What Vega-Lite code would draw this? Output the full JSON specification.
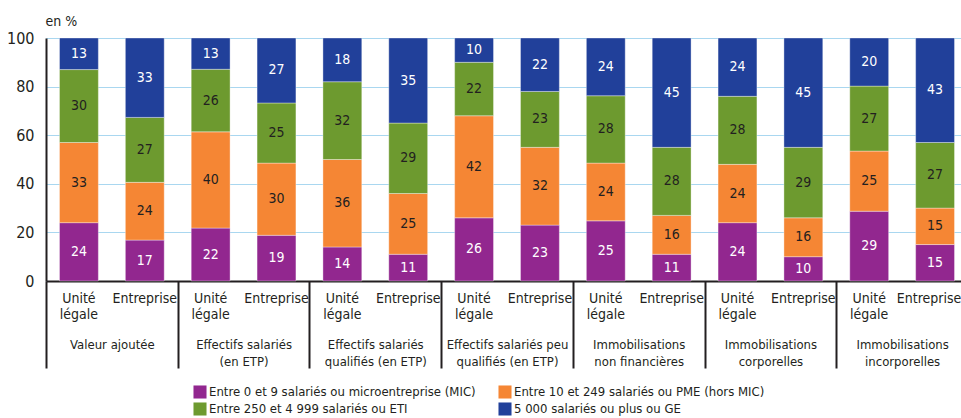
{
  "$schema": "https://vega.github.io/schema/vega-lite/v6.json",
  "width": 922,
  "height": 243,
  "autosize": {"type": "none"},
  "padding": {"left": 46, "top": 38, "right": 0, "bottom": 137},
  "config": {
    "font": "DejaVu Sans Condensed, Liberation Sans, sans-serif",
    "view": {"stroke": null},
    "axis": {"labelColor": "#231f20", "titleColor": "#231f20", "labelFont": "DejaVu Sans Condensed, Liberation Sans, sans-serif", "titleFont": "DejaVu Sans Condensed, Liberation Sans, sans-serif"},
    "legend": {"labelFont": "DejaVu Sans Condensed, Liberation Sans, sans-serif", "labelColor": "#231f20"}
  },
  "datasets": {
    "classes": [
      {"cls": "Entre 0 et 9 salariés ou microentreprise (MIC)", "k": 1},
      {"cls": "Entre 10 et 249 salariés ou PME (hors MIC)", "k": 2},
      {"cls": "Entre 250 et 4 999 salariés ou ETI", "k": 3},
      {"cls": "5 000 salariés ou plus ou GE", "k": 4}
    ],
    "rows": [
      {"g": "Valeur ajoutée", "bar": "Valeur ajoutée/Unité légale", "cls": "Entre 0 et 9 salariés ou microentreprise (MIC)", "v": 24},
      {"g": "Valeur ajoutée", "bar": "Valeur ajoutée/Unité légale", "cls": "Entre 10 et 249 salariés ou PME (hors MIC)", "v": 33},
      {"g": "Valeur ajoutée", "bar": "Valeur ajoutée/Unité légale", "cls": "Entre 250 et 4 999 salariés ou ETI", "v": 30},
      {"g": "Valeur ajoutée", "bar": "Valeur ajoutée/Unité légale", "cls": "5 000 salariés ou plus ou GE", "v": 13},
      {"g": "Valeur ajoutée", "bar": "Valeur ajoutée/Entreprise", "cls": "Entre 0 et 9 salariés ou microentreprise (MIC)", "v": 17},
      {"g": "Valeur ajoutée", "bar": "Valeur ajoutée/Entreprise", "cls": "Entre 10 et 249 salariés ou PME (hors MIC)", "v": 24},
      {"g": "Valeur ajoutée", "bar": "Valeur ajoutée/Entreprise", "cls": "Entre 250 et 4 999 salariés ou ETI", "v": 27},
      {"g": "Valeur ajoutée", "bar": "Valeur ajoutée/Entreprise", "cls": "5 000 salariés ou plus ou GE", "v": 33},
      {"g": "Effectifs salariés|(en ETP)", "bar": "Effectifs salariés|(en ETP)/Unité légale", "cls": "Entre 0 et 9 salariés ou microentreprise (MIC)", "v": 22},
      {"g": "Effectifs salariés|(en ETP)", "bar": "Effectifs salariés|(en ETP)/Unité légale", "cls": "Entre 10 et 249 salariés ou PME (hors MIC)", "v": 40},
      {"g": "Effectifs salariés|(en ETP)", "bar": "Effectifs salariés|(en ETP)/Unité légale", "cls": "Entre 250 et 4 999 salariés ou ETI", "v": 26},
      {"g": "Effectifs salariés|(en ETP)", "bar": "Effectifs salariés|(en ETP)/Unité légale", "cls": "5 000 salariés ou plus ou GE", "v": 13},
      {"g": "Effectifs salariés|(en ETP)", "bar": "Effectifs salariés|(en ETP)/Entreprise", "cls": "Entre 0 et 9 salariés ou microentreprise (MIC)", "v": 19},
      {"g": "Effectifs salariés|(en ETP)", "bar": "Effectifs salariés|(en ETP)/Entreprise", "cls": "Entre 10 et 249 salariés ou PME (hors MIC)", "v": 30},
      {"g": "Effectifs salariés|(en ETP)", "bar": "Effectifs salariés|(en ETP)/Entreprise", "cls": "Entre 250 et 4 999 salariés ou ETI", "v": 25},
      {"g": "Effectifs salariés|(en ETP)", "bar": "Effectifs salariés|(en ETP)/Entreprise", "cls": "5 000 salariés ou plus ou GE", "v": 27},
      {"g": "Effectifs salariés|qualifiés (en ETP)", "bar": "Effectifs salariés|qualifiés (en ETP)/Unité légale", "cls": "Entre 0 et 9 salariés ou microentreprise (MIC)", "v": 14},
      {"g": "Effectifs salariés|qualifiés (en ETP)", "bar": "Effectifs salariés|qualifiés (en ETP)/Unité légale", "cls": "Entre 10 et 249 salariés ou PME (hors MIC)", "v": 36},
      {"g": "Effectifs salariés|qualifiés (en ETP)", "bar": "Effectifs salariés|qualifiés (en ETP)/Unité légale", "cls": "Entre 250 et 4 999 salariés ou ETI", "v": 32},
      {"g": "Effectifs salariés|qualifiés (en ETP)", "bar": "Effectifs salariés|qualifiés (en ETP)/Unité légale", "cls": "5 000 salariés ou plus ou GE", "v": 18},
      {"g": "Effectifs salariés|qualifiés (en ETP)", "bar": "Effectifs salariés|qualifiés (en ETP)/Entreprise", "cls": "Entre 0 et 9 salariés ou microentreprise (MIC)", "v": 11},
      {"g": "Effectifs salariés|qualifiés (en ETP)", "bar": "Effectifs salariés|qualifiés (en ETP)/Entreprise", "cls": "Entre 10 et 249 salariés ou PME (hors MIC)", "v": 25},
      {"g": "Effectifs salariés|qualifiés (en ETP)", "bar": "Effectifs salariés|qualifiés (en ETP)/Entreprise", "cls": "Entre 250 et 4 999 salariés ou ETI", "v": 29},
      {"g": "Effectifs salariés|qualifiés (en ETP)", "bar": "Effectifs salariés|qualifiés (en ETP)/Entreprise", "cls": "5 000 salariés ou plus ou GE", "v": 35},
      {"g": "Effectifs salariés peu|qualifiés (en ETP)", "bar": "Effectifs salariés peu|qualifiés (en ETP)/Unité légale", "cls": "Entre 0 et 9 salariés ou microentreprise (MIC)", "v": 26},
      {"g": "Effectifs salariés peu|qualifiés (en ETP)", "bar": "Effectifs salariés peu|qualifiés (en ETP)/Unité légale", "cls": "Entre 10 et 249 salariés ou PME (hors MIC)", "v": 42},
      {"g": "Effectifs salariés peu|qualifiés (en ETP)", "bar": "Effectifs salariés peu|qualifiés (en ETP)/Unité légale", "cls": "Entre 250 et 4 999 salariés ou ETI", "v": 22},
      {"g": "Effectifs salariés peu|qualifiés (en ETP)", "bar": "Effectifs salariés peu|qualifiés (en ETP)/Unité légale", "cls": "5 000 salariés ou plus ou GE", "v": 10},
      {"g": "Effectifs salariés peu|qualifiés (en ETP)", "bar": "Effectifs salariés peu|qualifiés (en ETP)/Entreprise", "cls": "Entre 0 et 9 salariés ou microentreprise (MIC)", "v": 23},
      {"g": "Effectifs salariés peu|qualifiés (en ETP)", "bar": "Effectifs salariés peu|qualifiés (en ETP)/Entreprise", "cls": "Entre 10 et 249 salariés ou PME (hors MIC)", "v": 32},
      {"g": "Effectifs salariés peu|qualifiés (en ETP)", "bar": "Effectifs salariés peu|qualifiés (en ETP)/Entreprise", "cls": "Entre 250 et 4 999 salariés ou ETI", "v": 23},
      {"g": "Effectifs salariés peu|qualifiés (en ETP)", "bar": "Effectifs salariés peu|qualifiés (en ETP)/Entreprise", "cls": "5 000 salariés ou plus ou GE", "v": 22},
      {"g": "Immobilisations|non financières", "bar": "Immobilisations|non financières/Unité légale", "cls": "Entre 0 et 9 salariés ou microentreprise (MIC)", "v": 25},
      {"g": "Immobilisations|non financières", "bar": "Immobilisations|non financières/Unité légale", "cls": "Entre 10 et 249 salariés ou PME (hors MIC)", "v": 24},
      {"g": "Immobilisations|non financières", "bar": "Immobilisations|non financières/Unité légale", "cls": "Entre 250 et 4 999 salariés ou ETI", "v": 28},
      {"g": "Immobilisations|non financières", "bar": "Immobilisations|non financières/Unité légale", "cls": "5 000 salariés ou plus ou GE", "v": 24},
      {"g": "Immobilisations|non financières", "bar": "Immobilisations|non financières/Entreprise", "cls": "Entre 0 et 9 salariés ou microentreprise (MIC)", "v": 11},
      {"g": "Immobilisations|non financières", "bar": "Immobilisations|non financières/Entreprise", "cls": "Entre 10 et 249 salariés ou PME (hors MIC)", "v": 16},
      {"g": "Immobilisations|non financières", "bar": "Immobilisations|non financières/Entreprise", "cls": "Entre 250 et 4 999 salariés ou ETI", "v": 28},
      {"g": "Immobilisations|non financières", "bar": "Immobilisations|non financières/Entreprise", "cls": "5 000 salariés ou plus ou GE", "v": 45},
      {"g": "Immobilisations|corporelles", "bar": "Immobilisations|corporelles/Unité légale", "cls": "Entre 0 et 9 salariés ou microentreprise (MIC)", "v": 24},
      {"g": "Immobilisations|corporelles", "bar": "Immobilisations|corporelles/Unité légale", "cls": "Entre 10 et 249 salariés ou PME (hors MIC)", "v": 24},
      {"g": "Immobilisations|corporelles", "bar": "Immobilisations|corporelles/Unité légale", "cls": "Entre 250 et 4 999 salariés ou ETI", "v": 28},
      {"g": "Immobilisations|corporelles", "bar": "Immobilisations|corporelles/Unité légale", "cls": "5 000 salariés ou plus ou GE", "v": 24},
      {"g": "Immobilisations|corporelles", "bar": "Immobilisations|corporelles/Entreprise", "cls": "Entre 0 et 9 salariés ou microentreprise (MIC)", "v": 10},
      {"g": "Immobilisations|corporelles", "bar": "Immobilisations|corporelles/Entreprise", "cls": "Entre 10 et 249 salariés ou PME (hors MIC)", "v": 16},
      {"g": "Immobilisations|corporelles", "bar": "Immobilisations|corporelles/Entreprise", "cls": "Entre 250 et 4 999 salariés ou ETI", "v": 29},
      {"g": "Immobilisations|corporelles", "bar": "Immobilisations|corporelles/Entreprise", "cls": "5 000 salariés ou plus ou GE", "v": 45},
      {"g": "Immobilisations|incorporelles", "bar": "Immobilisations|incorporelles/Unité légale", "cls": "Entre 0 et 9 salariés ou microentreprise (MIC)", "v": 29},
      {"g": "Immobilisations|incorporelles", "bar": "Immobilisations|incorporelles/Unité légale", "cls": "Entre 10 et 249 salariés ou PME (hors MIC)", "v": 25},
      {"g": "Immobilisations|incorporelles", "bar": "Immobilisations|incorporelles/Unité légale", "cls": "Entre 250 et 4 999 salariés ou ETI", "v": 27},
      {"g": "Immobilisations|incorporelles", "bar": "Immobilisations|incorporelles/Unité légale", "cls": "5 000 salariés ou plus ou GE", "v": 20},
      {"g": "Immobilisations|incorporelles", "bar": "Immobilisations|incorporelles/Entreprise", "cls": "Entre 0 et 9 salariés ou microentreprise (MIC)", "v": 15},
      {"g": "Immobilisations|incorporelles", "bar": "Immobilisations|incorporelles/Entreprise", "cls": "Entre 10 et 249 salariés ou PME (hors MIC)", "v": 15},
      {"g": "Immobilisations|incorporelles", "bar": "Immobilisations|incorporelles/Entreprise", "cls": "Entre 250 et 4 999 salariés ou ETI", "v": 27},
      {"g": "Immobilisations|incorporelles", "bar": "Immobilisations|incorporelles/Entreprise", "cls": "5 000 salariés ou plus ou GE", "v": 43}
    ]
  },
  "data": {"name": "rows"},
  "transform": [
    {"lookup": "cls", "from": {"data": {"name": "classes"}, "key": "cls", "fields": ["k"]}}
  ],
  "layer": [
    {
      "layer": [
        {
          "mark": {"type": "bar", "stroke": "#ffffff", "strokeWidth": 0.6, "strokeOpacity": 0.6},
          "encoding": {
            "x": {
              "field": "bar", "type": "nominal", "sort": null,
              "scale": {"paddingInner": 0.41, "paddingOuter": 0.205},
              "axis": {
                "title": null, "labelAngle": 0, "ticks": false, "domain": true,
                "domainColor": "#231f20", "domainWidth": 2, "labelFontSize": 14,
                "labelPadding": 10, "labelBaseline": "top", "labelLineHeight": 16,
                "labelOverlap": false, "grid": false,
                "labelOffset": {"condition": {"test": "datum.value == 'Immobilisations|incorporelles/Entreprise'", "value": -6}, "value": 0},
                "labelExpr": "indexof(datum.label, 'Unité') >= 0 ? ['Unité', 'légale'] : 'Entreprise'"
              }
            },
            "y": {
              "field": "v", "type": "quantitative", "stack": "normalize",
              "scale": {"domain": [0, 1]},
              "axis": {
                "values": [0, 0.2, 0.4, 0.6, 0.8, 1],
                "labelExpr": "format(datum.value * 100, 'd')",
                "title": "en %", "titleAngle": 0, "titleAlign": "left", "titleBaseline": "alphabetic",
                "titleX": -1, "titleY": -13, "titleFontSize": 14, "titleFontWeight": "normal",
                "grid": true, "gridColor": "#a9d7f0", "gridWidth": 1,
                "domainColor": "#231f20", "domainWidth": 2, "ticks": false,
                "labelFontSize": 16, "labelPadding": 12
              }
            },
            "color": {
              "field": "cls", "type": "nominal",
              "scale": {
                "domain": ["Entre 0 et 9 salariés ou microentreprise (MIC)", "Entre 10 et 249 salariés ou PME (hors MIC)", "Entre 250 et 4 999 salariés ou ETI", "5 000 salariés ou plus ou GE"],
                "range": ["#92278f", "#f58634", "#6d9a2f", "#21409a"]
              },
              "legend": {
                "orient": "none", "legendX": 147, "legendY": 347, "columns": 2,
                "direction": "horizontal", "title": null, "symbolType": "square",
                "symbolSize": 170, "symbolStrokeWidth": 0, "symbolOpacity": 1,
                "labelFontSize": 13, "labelOffset": 2, "columnPadding": 22, "rowPadding": 3,
                "padding": 0, "labelLimit": 400
              }
            },
            "order": {"field": "k", "type": "quantitative", "sort": "ascending"}
          }
        },
        {
          "mark": {"type": "text", "fontSize": 14},
          "encoding": {
            "x": {"field": "bar", "type": "nominal", "sort": null},
            "y": {"field": "v", "type": "quantitative", "stack": "normalize", "bandPosition": 0.5},
            "detail": {"field": "cls", "type": "nominal"},
            "order": {"field": "k", "type": "quantitative", "sort": "ascending"},
            "fill": {
              "condition": {"test": "datum.k == 1 || datum.k == 4", "value": "#ffffff"},
              "value": "#231f20"
            },
            "text": {"field": "v", "type": "quantitative"}
          }
        }
      ]
    },
    {
      "mark": {"type": "rule", "opacity": 0},
      "encoding": {
        "x": {
          "field": "g", "type": "nominal", "sort": null,
          "scale": {"paddingInner": 0, "paddingOuter": 0},
          "axis": {
            "orient": "bottom", "title": null, "domain": false, "grid": false,
            "ticks": true, "tickBand": "extent", "tickSize": 87, "tickWidth": 2,
            "tickColor": "#231f20", "labelPadding": -30, "labelAngle": 0,
            "labelFontSize": 13, "labelLineHeight": 17, "labelBaseline": "top",
            "labelOverlap": false, "labelBound": false,
            "labelExpr": "split(datum.label, '|')"
          }
        }
      }
    }
  ],
  "resolve": {"scale": {"x": "independent"}, "axis": {"x": "independent"}}
}
